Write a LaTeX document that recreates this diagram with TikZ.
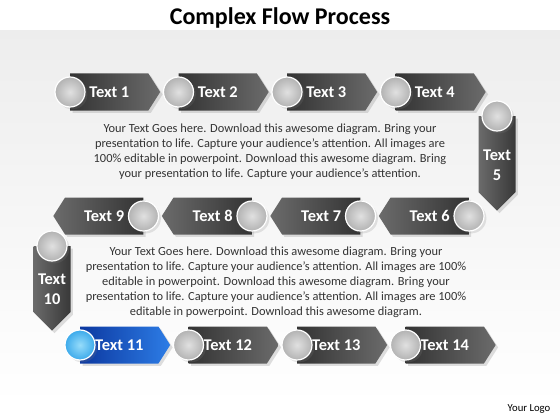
\documentclass[tikz,border=0pt]{standalone}
\usepackage{fontspec}
\setmainfont{Carlito}
\usetikzlibrary{shapes.symbols,shadows,positioning}

\begin{document}
\begin{tikzpicture}[x=1pt,y=-1pt,node distance=108.5pt]
\tikzstyle{stepright}=[signal,signal to=east,signal pointer angle=115,minimum width=90pt,minimum height=37pt,inner sep=0pt,
  font=\fontsize{16.4}{18}\selectfont\bfseries,text=white,left color=black!80,right color=black!58,drop shadow={opacity=0.25}]
\tikzstyle{stepleft}=[stepright,signal to=west,left color=black!58,right color=black!80]
\tikzstyle{stepdown}=[stepright,signal to=south,signal pointer angle=90,minimum width=37pt,minimum height=90pt,align=center,
  font=\fontsize{16.4}{20}\selectfont\bfseries,left color=black!58,right color=black!78]
\tikzstyle{stepblue}=[stepright,left color={rgb,255:red,12;green,56;blue,160},right color={rgb,255:red,45;green,125;blue,230}]
\tikzstyle{knob}=[circle,minimum size=30pt,inner sep=0pt,draw=white,line width=1.2pt,inner color=black!12,outer color=black!30,drop shadow={opacity=0.2}]
\tikzstyle{knobblue}=[knob,inner color={rgb,255:red,150;green,220;blue,250},outer color={rgb,255:red,60;green,170;blue,235}]
\tikzstyle{para}=[align=center,text=black!80,font=\fontsize{12.4}{15}\selectfont]
\useasboundingbox (0,0) rectangle (560,420);
\fill[top color=black!7,bottom color=white] (0,31) rectangle (560,405);
\node[font=\fontsize{24}{27}\selectfont\bfseries] (title) at (280,18) {Complex Flow Process};

% first row, left to right
\node[stepright,anchor=west] (t1) at (70,92) {Text 1};
\node[stepright,right of = t1] (t2) {Text 2};
\node[stepright,right of = t2] (t3) {Text 3};
\node[stepright,right of = t3] (t4) {Text 4};
\node[stepdown,anchor=north] (t5) at (497,116) {\rule{0pt}{32pt}Text\\5};
% second row, right to left
\node[stepleft,anchor=east] (t6) at (469,216) {Text 6};
\node[stepleft,left of = t6] (t7) {Text 7};
\node[stepleft,left of = t7] (t8) {Text 8};
\node[stepleft,left of = t8] (t9) {Text 9};
\node[stepdown,anchor=north,minimum height=80pt] (t10) at (52,246) {\rule{0pt}{30pt}Text\\10};
% third row
\node[stepblue,anchor=west] (t11) at (80,345) {Text 11};
\node[stepright,right of = t11] (t12) {Text 12};
\node[stepright,right of = t12] (t13) {Text 13};
\node[stepright,right of = t13] (t14) {Text 14};

\foreach \n in {1,2,3,4,12,13,14}
  \node[knob] (k\n) at (t\n.west) {};
\foreach \n in {6,7,8,9}
  \node[knob] (k\n) at (t\n.east) {};
\foreach \n in {5,10}
  \node[knob] (k\n) at (t\n.north) {};
\node[knobblue] (k11) at (t11.west) {};

\node[para] (p1) at (270,152) {Your Text Goes here. Download this awesome diagram. Bring your\\
presentation to life. Capture your audience’s attention. All images are\\
100\% editable in powerpoint. Download this awesome diagram. Bring\\
your presentation to life. Capture your audience’s attention.};
\node[para] (p2) at (276,282) {Your Text Goes here. Download this awesome diagram. Bring your\\
presentation to life. Capture your audience’s attention. All images are 100\%\\
editable in powerpoint. Download this awesome diagram. Bring your\\
presentation to life. Capture your audience’s attention. All images are 100\%\\
editable in powerpoint. Download this awesome diagram.};
\node[font=\fontsize{10.7}{12}\selectfont] (logo) at (529,409) {Your Logo};
\end{tikzpicture}
\end{document}
